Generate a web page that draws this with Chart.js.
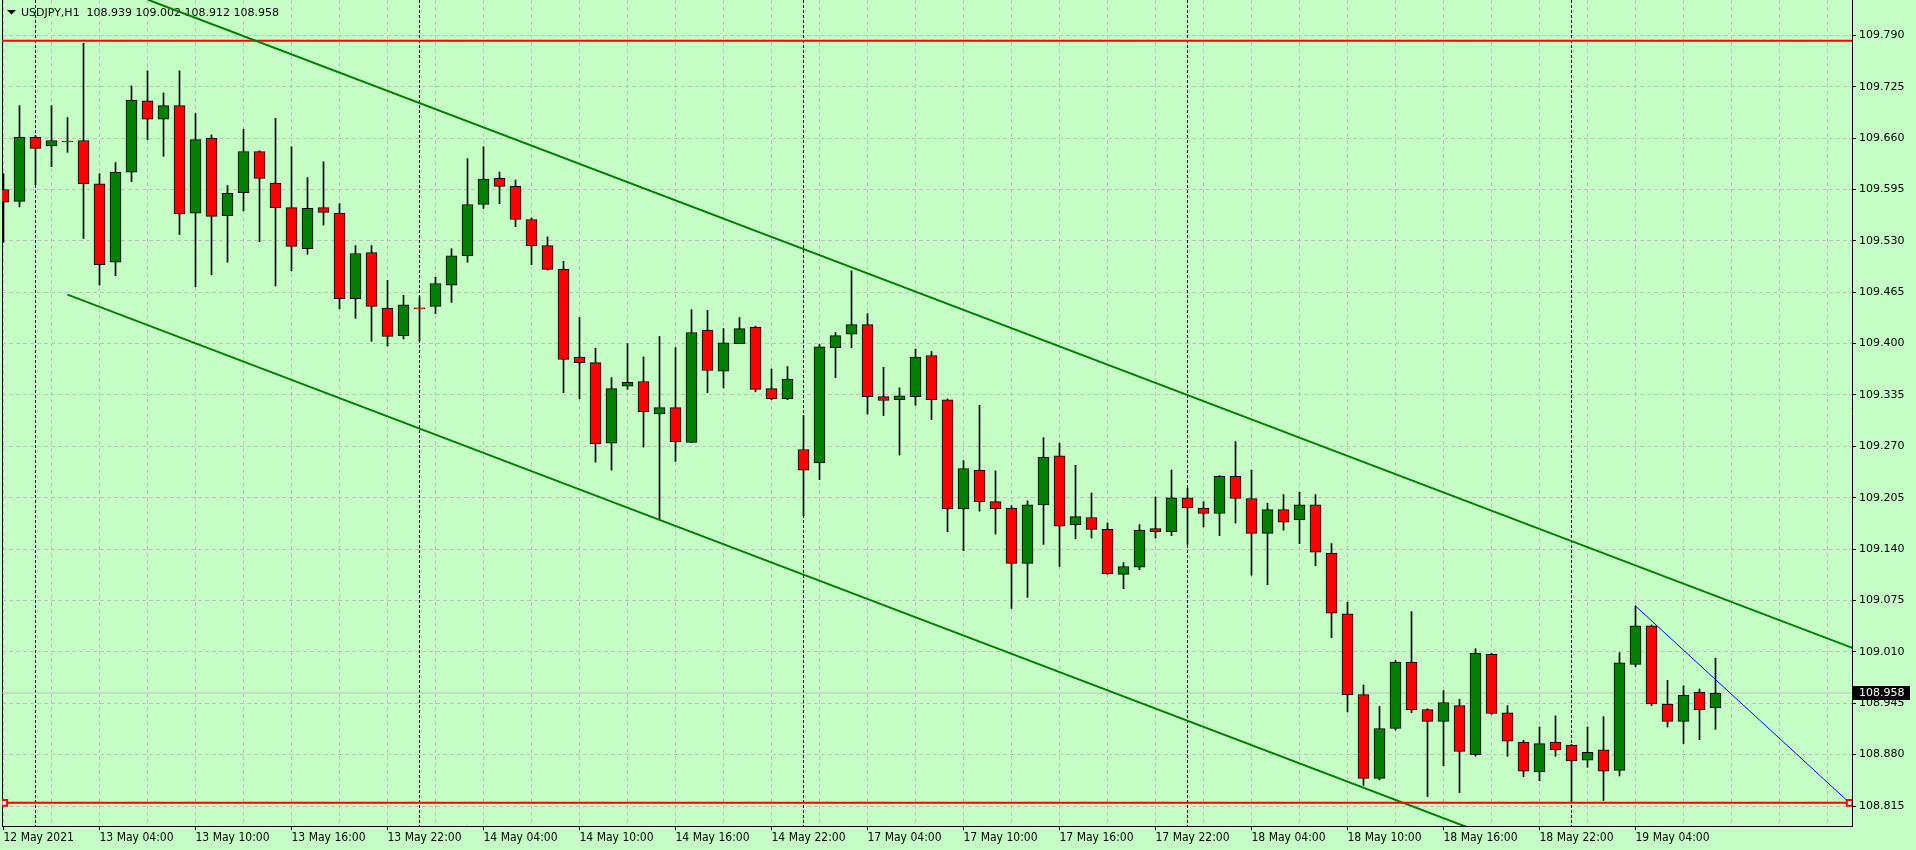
<!DOCTYPE html>
<html>
<head>
<meta charset="utf-8">
<script src="https://cdn.jsdelivr.net/npm/chart.js@4.4.0/dist/chart.umd.min.js"></script>
<style>
    html, body { margin: 0; padding: 0; background: #c6ffc6; overflow: hidden; }
    canvas { display: block; }
</style>
</head>
<body>
<canvas id="priceChart" width="1916" height="850"></canvas>
<script>
// USDJPY H1, one value per bar, from 12 May 22:00 to 19 May 09:00
const symbol = 'USDJPY,H1';

const opens = [
    109.595, 109.580, 109.661, 109.650, 109.656, 109.657, 109.602, 109.503, 109.617, 109.707,
    109.684, 109.701, 109.565, 109.660, 109.562, 109.591, 109.643, 109.603, 109.572, 109.520,
    109.572, 109.565, 109.457, 109.515, 109.445, 109.410, 109.445, 109.447, 109.474, 109.511,
    109.576, 109.609, 109.599, 109.557, 109.524, 109.494, 109.383, 109.376, 109.274, 109.346,
    109.352, 109.311, 109.319, 109.275, 109.417, 109.365, 109.400, 109.421, 109.343, 109.330,
    109.266, 109.249, 109.395, 109.412, 109.424, 109.333, 109.329, 109.333, 109.385, 109.329,
    109.191, 109.240, 109.200, 109.192, 109.122, 109.196, 109.258, 109.171, 109.180, 109.165,
    109.108, 109.117, 109.166, 109.162, 109.205, 109.192, 109.185, 109.232, 109.204, 109.160,
    109.190, 109.177, 109.196, 109.135, 109.058, 108.956, 108.850, 108.913, 108.997, 108.937,
    108.922, 108.942, 108.880, 109.007, 108.933, 108.896, 108.858, 108.896, 108.892, 108.873,
    108.886, 108.860, 108.994, 109.043, 108.944, 108.922, 108.959, 108.939
];
const highs = [
    109.615, 109.701, 109.663, 109.701, 109.686, 109.780, 109.615, 109.629, 109.726, 109.745,
    109.717, 109.745, 109.691, 109.664, 109.600, 109.671, 109.644, 109.685, 109.649, 109.610,
    109.630, 109.577, 109.524, 109.524, 109.480, 109.461, 109.459, 109.484, 109.520, 109.634,
    109.649, 109.617, 109.607, 109.559, 109.535, 109.504, 109.433, 109.394, 109.357, 109.400,
    109.383, 109.409, 109.395, 109.443, 109.442, 109.419, 109.433, 109.422, 109.368, 109.371,
    109.309, 109.399, 109.414, 109.492, 109.438, 109.370, 109.344, 109.393, 109.390, 109.330,
    109.252, 109.322, 109.239, 109.195, 109.201, 109.281, 109.274, 109.246, 109.211, 109.173,
    109.123, 109.171, 109.206, 109.240, 109.217, 109.200, 109.233, 109.276, 109.240, 109.198,
    109.209, 109.212, 109.209, 109.147, 109.073, 108.968, 108.941, 108.999, 109.061, 108.938,
    108.961, 108.950, 109.014, 109.008, 108.942, 108.898, 108.915, 108.929, 108.893, 108.915,
    108.928, 109.009, 109.068, 109.044, 108.974, 108.967, 108.963, 109.002
];
const lows = [
    109.528, 109.573, 109.601, 109.624, 109.642, 109.533, 109.474, 109.486, 109.605, 109.658,
    109.637, 109.538, 109.472, 109.487, 109.503, 109.568, 109.529, 109.473, 109.492, 109.513,
    109.550, 109.444, 109.432, 109.403, 109.397, 109.406, 109.403, 109.438, 109.452, 109.503,
    109.571, 109.577, 109.548, 109.500, 109.493, 109.338, 109.330, 109.250, 109.240, 109.342,
    109.269, 109.178, 109.251, 109.275, 109.338, 109.344, 109.400, 109.339, 109.329, 109.329,
    109.182, 109.228, 109.357, 109.395, 109.311, 109.309, 109.259, 109.322, 109.304, 109.162,
    109.138, 109.188, 109.159, 109.065, 109.079, 109.146, 109.118, 109.153, 109.154, 109.108,
    109.090, 109.114, 109.154, 109.157, 109.146, 109.168, 109.157, 109.173, 109.107, 109.095,
    109.164, 109.147, 109.119, 109.028, 108.934, 108.841, 108.848, 108.911, 108.933, 108.827,
    108.866, 108.832, 108.878, 108.931, 108.878, 108.852, 108.847, 108.878, 108.820, 108.864,
    108.822, 108.853, 108.991, 108.942, 108.915, 108.894, 108.899, 108.912
];
const closes = [
    109.579, 109.661, 109.647, 109.657, 109.655, 109.602, 109.500, 109.617, 109.708, 109.684,
    109.701, 109.564, 109.658, 109.561, 109.590, 109.643, 109.609, 109.572, 109.523, 109.571,
    109.566, 109.457, 109.514, 109.447, 109.409, 109.449, 109.444, 109.476, 109.511, 109.576,
    109.608, 109.599, 109.557, 109.524, 109.494, 109.380, 109.376, 109.273, 109.343, 109.351,
    109.314, 109.319, 109.276, 109.414, 109.366, 109.401, 109.419, 109.342, 109.330, 109.355,
    109.240, 109.396, 109.410, 109.424, 109.333, 109.328, 109.334, 109.383, 109.329, 109.191,
    109.242, 109.200, 109.191, 109.122, 109.196, 109.256, 109.169, 109.181, 109.165, 109.109,
    109.118, 109.164, 109.162, 109.205, 109.192, 109.185, 109.232, 109.204, 109.160, 109.190,
    109.174, 109.196, 109.136, 109.059, 108.956, 108.850, 108.913, 108.997, 108.937, 108.922,
    108.946, 108.884, 109.008, 108.932, 108.897, 108.859, 108.894, 108.886, 108.872, 108.883,
    108.859, 108.996, 109.043, 108.944, 108.922, 108.955, 108.937, 108.958
];

// time labels, one every 6 bars starting at bar 0
const timeLabels = [
    '12 May 2021', '13 May 04:00', '13 May 10:00', '13 May 16:00', '13 May 22:00', '14 May 04:00',
    '14 May 10:00', '14 May 16:00', '14 May 22:00', '17 May 04:00', '17 May 10:00', '17 May 16:00',
    '17 May 22:00', '18 May 04:00', '18 May 10:00', '18 May 16:00', '18 May 22:00', '19 May 04:00'
];
const priceTicks = [
    109.790, 109.725, 109.660, 109.595, 109.530, 109.465, 109.400, 109.335,
    109.270, 109.205, 109.140, 109.075, 109.010, 108.945, 108.880, 108.815
];
const daySeparators = [2, 26, 50, 74, 98]; // bar index of 00:00 each day

// drawn objects: [bar index, price]
const resistanceLevel = 109.783;
const supportLevel = 108.819;
const supportAnchors = [0.05, 115.38];
const upperChannel = [[9.03, 109.835], [115.55, 109.015]];
const lowerChannel = [[4, 109.462], [115.53, 108.603]];
const blueTrend = [[102, 109.068], [115.38, 108.819]];

const xMin = -0.09375, xMax = 115.53125;
const yMin = 108.7897, yMax = 109.8347;
const bid = closes[closes.length - 1];

const toPoints = arr => arr.map(([x, y]) => ({ x, y }));

const overlay = {
    id: 'overlay',
    beforeDatasetsDraw(chart) {
        const { ctx, chartArea, scales } = chart;
        ctx.save();
        ctx.strokeStyle = '#000';
        ctx.lineWidth = 1;
        ctx.setLineDash([3, 2]);
        daySeparators.forEach(i => {
            const px = Math.round(scales.x.getPixelForValue(i) - 0.5) + 0.5;
            ctx.beginPath();
            ctx.moveTo(px, chartArea.top);
            ctx.lineTo(px, chartArea.bottom);
            ctx.stroke();
        });
        ctx.setLineDash([]);
        ctx.beginPath();
        ctx.moveTo(chartArea.left + 0.5, chartArea.top);
        ctx.lineTo(chartArea.left + 0.5, chartArea.bottom);
        ctx.stroke();

        // header
        const last = closes.length - 1;
        ctx.fillStyle = '#000';
        ctx.beginPath();
        ctx.moveTo(7, 10);
        ctx.lineTo(16, 10);
        ctx.lineTo(11.5, 14.5);
        ctx.closePath();
        ctx.fill();
        ctx.font = '11px "DejaVu Sans"';
        ctx.textBaseline = 'middle';
        const ohlc = [opens[last], highs[last], lows[last], closes[last]].map(v => v.toFixed(3)).join(' ');
        ctx.fillText(symbol + '  ' + ohlc, 21, 13);
        ctx.restore();
    },
    afterDraw(chart) {
        const { ctx, chartArea, scales } = chart;
        const y = Math.round(scales.y.getPixelForValue(bid));
        ctx.save();
        ctx.fillStyle = '#000';
        ctx.fillRect(chartArea.right + 1, y - 7, 57, 14);
        ctx.fillStyle = '#fff';
        ctx.font = '11px "DejaVu Sans"';
        ctx.textBaseline = 'middle';
        ctx.fillText(bid.toFixed(3), chartArea.right + 7, y);
        ctx.restore();
    }
};

const ctx = document.getElementById('priceChart').getContext('2d');
new Chart(ctx, {
    type: 'bar',
    data: {
        datasets: [
            {
                type: 'line',
                data: toPoints(upperChannel),
                borderColor: '#008000', borderWidth: 2, pointRadius: 0, order: 1
            },
            {
                type: 'line',
                data: toPoints(lowerChannel),
                borderColor: '#008000', borderWidth: 2, pointRadius: 0, order: 1
            },
            {
                type: 'line',
                data: [{ x: xMin, y: resistanceLevel }, { x: xMax, y: resistanceLevel }],
                borderColor: '#ff0000', borderWidth: 2, pointRadius: 0, order: 2
            },
            {
                type: 'line',
                data: toPoints(blueTrend),
                borderColor: '#0000ff', borderWidth: 1, pointRadius: 0, order: 1
            },
            {
                type: 'line',
                data: [
                    { x: xMin, y: supportLevel },
                    { x: supportAnchors[0], y: supportLevel },
                    { x: supportAnchors[1], y: supportLevel },
                    { x: xMax, y: supportLevel }
                ],
                borderColor: '#ff0000', borderWidth: 2,
                pointRadius: [0, 4, 4, 0], pointStyle: 'rect',
                pointBackgroundColor: '#ffffff', pointBorderColor: '#ff0000', pointBorderWidth: 2,
                order: 0
            },
            {
                label: 'bodies',
                data: opens.map((o, i) => ({ x: i, y: [o, closes[i]] })),
                backgroundColor: opens.map((o, i) => closes[i] >= o ? '#008000' : '#ff0000'),
                borderColor: '#000', borderWidth: 1, borderSkipped: false,
                barThickness: 11, maxBarThickness: 11, minBarLength: 1,
                grouped: false, order: 5
            },
            {
                label: 'wicks',
                data: lows.map((l, i) => ({ x: i, y: [l, highs[i]] })),
                backgroundColor: '#000',
                barThickness: 1, maxBarThickness: 1,
                grouped: false, order: 6
            },
            {
                type: 'line',
                data: [{ x: xMin, y: bid }, { x: xMax, y: bid }],
                borderColor: '#c0c0c0', borderWidth: 1, pointRadius: 0, order: 10
            }
        ]
    },
    options: {
        responsive: false,
        animation: false,
        devicePixelRatio: 1,
        layout: { padding: { left: 2, top: 0, right: 0, bottom: 0 } },
        plugins: { legend: { display: false }, tooltip: { enabled: false } },
        scales: {
            x: {
                type: 'linear',
                min: xMin, max: xMax,
                offset: false,
                afterBuildTicks: scale => {
                    const ticks = [];
                    for (let i = 0; i <= 114; i += 3) ticks.push({ value: i });
                    scale.ticks = ticks;
                },
                afterFit: scale => {
                    scale.height = 24;
                    scale.paddingLeft = 0; scale.paddingRight = 0;
                },
                ticks: {
                    autoSkip: false, maxRotation: 0, minRotation: 0,
                    align: 'start', padding: 1, color: '#000',
                    font: { family: '"Liberation Sans Narrow", "DejaVu Sans Condensed", sans-serif', size: 12 },
                    callback: v => (v % 6 === 0 && v / 6 < timeLabels.length) ? timeLabels[v / 6] : ''
                },
                grid: {
                    offset: false,
                    color: '#c0c0c0', lineWidth: 1, tickLength: 4,
                    tickColor: c => (c.tick && c.tick.value % 6 === 0 && c.tick.value / 6 < timeLabels.length) ? '#000' : 'rgba(0,0,0,0)'
                },
                border: { color: '#000', width: 1, dash: [4, 3] }
            },
            y: {
                type: 'linear',
                position: 'right',
                min: yMin, max: yMax,
                afterBuildTicks: scale => {
                    scale.ticks = priceTicks.map(v => ({ value: v }));
                },
                afterFit: scale => {
                    scale.width = 64;
                    scale.paddingTop = 0; scale.paddingBottom = 0;
                },
                ticks: {
                    autoSkip: false, padding: 3, color: '#000',
                    font: { family: '"DejaVu Sans"', size: 11 },
                    callback: v => v.toFixed(3)
                },
                grid: { color: '#c0c0c0', lineWidth: 1, tickLength: 4, tickColor: '#000' },
                border: { color: '#000', width: 1, dash: [4, 3] }
            }
        }
    },
    plugins: [overlay]
});
</script>
</body>
</html>
